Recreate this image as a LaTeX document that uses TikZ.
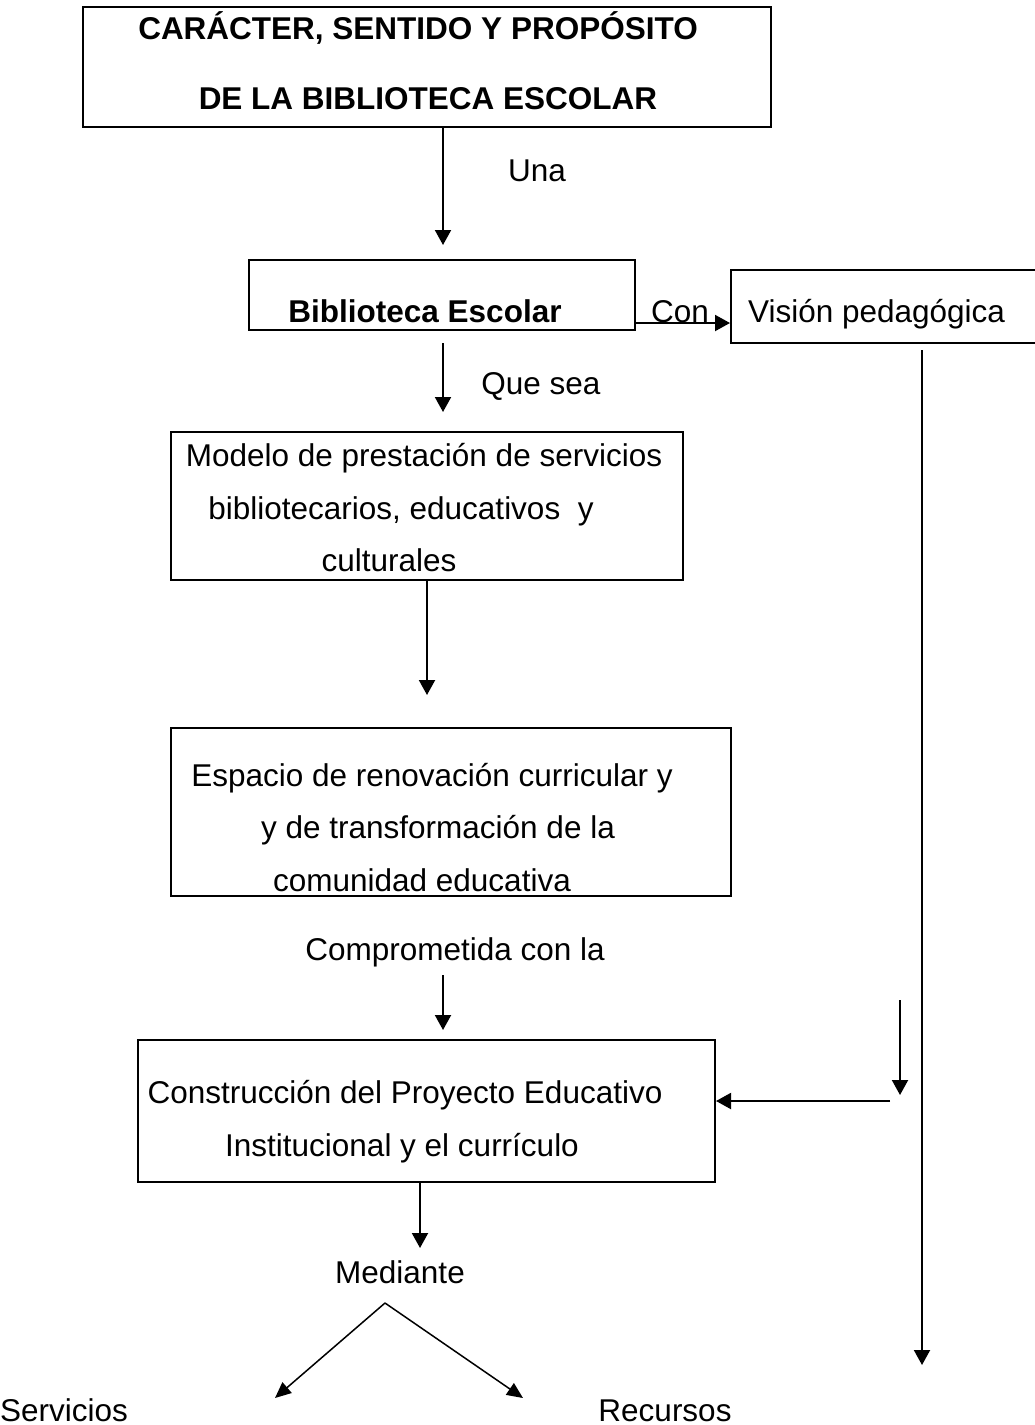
\documentclass[tikz,border=0pt]{standalone}
\usepackage{fontspec}
\setmainfont{Liberation Sans}
\usetikzlibrary{arrows.meta}
\begin{document}
\begin{tikzpicture}[x=1pt,y=-1pt,
  box/.style={draw, line width=2pt, inner sep=0pt},
  txt/.style={inner sep=0pt, anchor=base, font=\fontsize{31.5}{38}\selectfont},
  btxt/.style={inner sep=0pt, anchor=base, font=\fontsize{31.5}{38}\selectfont\bfseries},
  arr/.style={line width=2pt, -{Triangle[length=15pt,width=16pt]}},
  thinarr/.style={line width=1.5pt, -{Triangle[length=16pt,width=14pt]}}]
\useasboundingbox (0,0) rectangle (1034,1425);

% boxes
\node[box, minimum width=688pt, minimum height=120pt] (title) at (427,67) {};
\node[box, minimum width=386pt, minimum height=70pt] (bib) at (442,295) {};
\node[box, minimum width=314pt, minimum height=73pt] (vis) at (888,306.5) {};
\node[box, minimum width=512pt, minimum height=148pt] (model) at (427,506) {};
\node[box, minimum width=560pt, minimum height=168pt] (esp) at (451,812) {};
\node[box, minimum width=577pt, minimum height=142pt] (cons) at (426.5,1111) {};

% texts
\node[btxt] (t1) at (418,39) {CARÁCTER, SENTIDO Y PROPÓSITO};
\node[btxt] (t2) at (428,109) {DE LA BIBLIOTECA ESCOLAR};
\node[txt] (una) at (537,181) {Una};
\node[btxt] (bibt) at (425,322) {Biblioteca Escolar};
\node[txt] (con) at (680,322) {Con};
\node[txt, anchor=base west] (vist) at (748,322) {Visión pedagógica};
\node[txt] (quesea) at (541,394) {Que sea};
\node[txt] (m1) at (424,466) {Modelo de prestación de servicios};
\node[txt] (m2) at (401,519) {bibliotecarios, educativos\ \ y};
\node[txt] (m3) at (389,571) {culturales};
\node[txt] (e1) at (432,786) {Espacio de renovación curricular y};
\node[txt] (e2) at (438,838) {y de transformación de la};
\node[txt] (e3) at (422,891) {comunidad educativa};
\node[txt] (comp) at (455,960) {Comprometida con la};
\node[txt] (c1) at (405,1103) {Construcción del Proyecto Educativo};
\node[txt] (c2) at (402,1156) {Institucional y el currículo};
\node[txt] (med) at (400,1283) {Mediante};
\node[txt, anchor=base west] (serv) at (0,1421) {Servicios};
\node[txt] (rec) at (665,1421) {Recursos};

% free-end coordinates
\coordinate (a1e) at (443,245);
\coordinate (conl) at (0,323);
\coordinate (a2s) at (443,343);
\coordinate (a2e) at (443,412);
\coordinate (a3e) at (427,695);
\coordinate (a4s) at (443,975);
\coordinate (a4e) at (443,1030);
\coordinate (rs) at (922,350);
\coordinate (re) at (922,1365);
\coordinate (ss) at (900,1000);
\coordinate (se) at (900,1095);
\coordinate (hs) at (890,1101);
\coordinate (a5e) at (420,1248);
\coordinate (apex) at (385,1303);
\coordinate (le) at (275,1398);
\coordinate (rte) at (523,1398);

% connectors
\draw[arr] (title.south -| a1e) -- (a1e);
\draw[arr] (bib.east |- conl) -- (vis.west |- conl);
\draw[arr] (a2s) -- (a2e);
\draw[arr] (model.south -| a3e) -- (a3e);
\draw[arr] (a4s) -- (a4e);
\draw[arr] (rs) -- (re);
\draw[arr] (ss) -- (se);
\draw[arr] (hs) -- (cons.east |- hs);
\draw[arr] (cons.south -| a5e) -- (a5e);
\draw[thinarr] (apex) -- (le);
\draw[thinarr] (apex) -- (rte);
\end{tikzpicture}
\end{document}
